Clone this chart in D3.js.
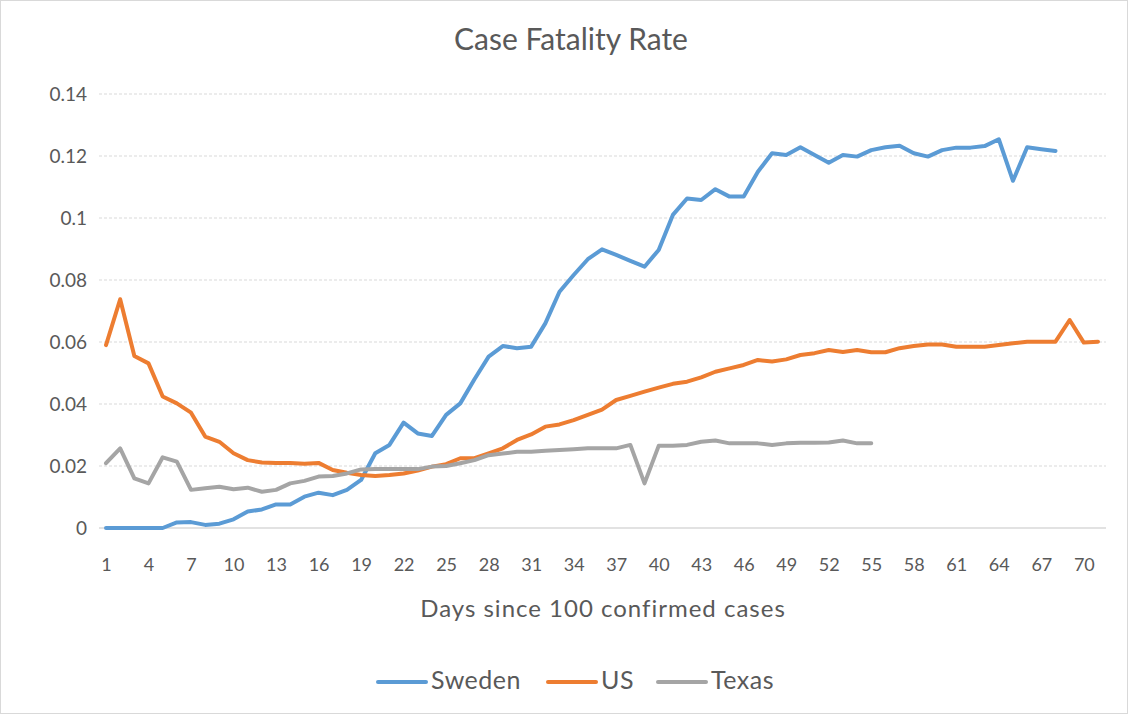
<!DOCTYPE html>
<html><head><meta charset="utf-8">
<script src="https://cdn.jsdelivr.net/npm/d3@7"></script>
<style>body{margin:0;background:#fff;} svg{display:block;} text{font-family:Lato,"Open Sans",sans-serif;fill:#595959;}</style>
</head><body><svg id="c" width="1128" height="714"></svg>
<script>
const days = d3.range(1, 72);
const sweden = [0,0,0,0,0,0.0018,0.0019,0.001,0.0014,0.0028,0.0053,0.006,0.0076,0.0076,0.0101,0.0114,0.0106,0.0123,0.0155,0.0241,
0.0268,0.034,0.0305,0.0297,0.0365,0.0402,0.048,0.0553,0.0587,0.058,0.0585,0.066,0.0762,0.0816,0.0867,0.0899,0.0881,0.0862,0.0843,0.0897,
0.101,0.1063,0.1058,0.1093,0.1069,0.1069,0.1149,0.1209,0.1203,0.1228,0.1203,0.1178,0.1203,0.1198,0.1219,0.1228,0.1233,0.1209,0.1198,0.1219,
0.1227,0.1227,0.1232,0.1254,0.112,0.1228,0.1222,0.1216];
const us = [0.059,0.0738,0.0555,0.0531,0.0424,0.0402,0.0372,0.0295,0.0278,0.0241,0.0219,0.0211,0.021,0.021,0.0207,0.021,0.0187,0.0178,0.0171,0.0168,
0.0171,0.0176,0.0185,0.0198,0.0206,0.0225,0.0225,0.0241,0.0257,0.0284,0.0302,0.0327,0.0334,0.0348,0.0365,0.0382,0.0413,0.0426,0.044,0.0453,
0.0465,0.0472,0.0486,0.0504,0.0515,0.0526,0.0542,0.0537,0.0544,0.0558,0.0564,0.0574,0.0568,0.0574,0.0567,0.0567,0.058,0.0587,0.0592,0.0592,
0.0585,0.0585,0.0585,0.059,0.0596,0.0601,0.0601,0.0601,0.0671,0.0598,0.0601];
const texas = [0.0209,0.0257,0.016,0.0144,0.0228,0.0214,0.0123,0.0128,0.0133,0.0125,0.013,0.0117,0.0123,0.0144,0.0152,0.0166,0.0168,0.0176,0.0189,0.019,
0.019,0.019,0.019,0.0198,0.02,0.0209,0.0219,0.0235,0.024,0.0246,0.0246,0.0249,0.0252,0.0254,0.0257,0.0257,0.0257,0.0268,0.0144,0.0265,
0.0265,0.0268,0.0278,0.0282,0.0273,0.0273,0.0273,0.0268,0.0273,0.0275,0.0275,0.0276,0.0282,0.0273,0.0273];
const seriesNames = ["Sweden","US","Texas"];
const seriesColors = ["#5B9BD5","#ED7D31","#A5A5A5"];
const xTickLabels = [1,4,7,10,13,16,19,22,25,28,31,34,37,40,43,46,49,52,55,58,61,64,67,70];
const yTicks = [0,0.02,0.04,0.06,0.08,0.1,0.12,0.14];
const yTickLabels = ["0","0.02","0.04","0.06","0.08","0.1","0.12","0.14"];

const svg = d3.select("#c");
svg.append("rect").attr("x",0.5).attr("y",0.5).attr("width",1127).attr("height",713).attr("fill","#fff").attr("stroke","#d9d9d9");

const plotL = 99, plotR = 1106;
const x = d3.scalePoint().domain(days).range([106, 1098]);
const y = d3.scaleLinear().domain([0,0.14]).range([528, 94]);

// gridlines
svg.append("g").selectAll("line").data(yTicks.filter(v=>v>0)).join("line")
  .attr("x1",plotL).attr("x2",plotR).attr("y1",d=>y(d)).attr("y2",d=>y(d))
  .attr("stroke","#d9d9d9").attr("stroke-width",1).attr("stroke-dasharray","3,2");
svg.append("line").attr("x1",plotL).attr("x2",plotR).attr("y1",y(0)).attr("y2",y(0)).attr("stroke","#d9d9d9").attr("stroke-width",1.5);

// y labels
const yAxis = d3.axisLeft(y).tickValues(yTicks).tickFormat((d,i)=>yTickLabels[i]).tickSize(0).tickPadding(0);
const gy = svg.append("g").attr("transform","translate(87,0)").call(yAxis);
gy.select(".domain").remove();
gy.selectAll("text").attr("font-size",19).style("font-family","Lato,sans-serif").attr("fill","#595959");

// x labels
const xAxis = d3.axisBottom(x).tickValues(xTickLabels).tickSize(0).tickPadding(0);
const gx = svg.append("g").attr("transform","translate(0,558)").call(xAxis);
gx.select(".domain").remove();
gx.selectAll("text").attr("font-size",18).style("font-family","Lato,sans-serif").attr("fill","#595959");

// lines
const data = [sweden, us, texas];
const line = d3.line().x((d,i)=>x(days[i])).y(d=>y(d));
data.forEach((s,k)=>{
  svg.append("path").datum(s).attr("d",line).attr("fill","none")
    .attr("stroke",seriesColors[k]).attr("stroke-width",4).attr("stroke-linejoin","round").attr("stroke-linecap","round");
});

// titles
svg.append("text").attr("x",571).attr("y",50).attr("text-anchor","middle").attr("font-size",30).text("Case Fatality Rate");
svg.append("text").attr("x",603).attr("y",617).attr("text-anchor","middle").attr("font-size",24).attr("letter-spacing",1).text("Days since 100 confirmed cases");

// legend
const legX = [378, 548, 658];
seriesNames.forEach((n,k)=>{
  svg.append("line").attr("x1",legX[k]).attr("x2",legX[k]+48).attr("y1",682).attr("y2",682)
    .attr("stroke",seriesColors[k]).attr("stroke-width",4).attr("stroke-linecap","round");
  svg.append("text").attr("x",legX[k]+53).attr("y",689).attr("font-size",25).attr("letter-spacing",0.5).text(n);
});
</script></body></html>
